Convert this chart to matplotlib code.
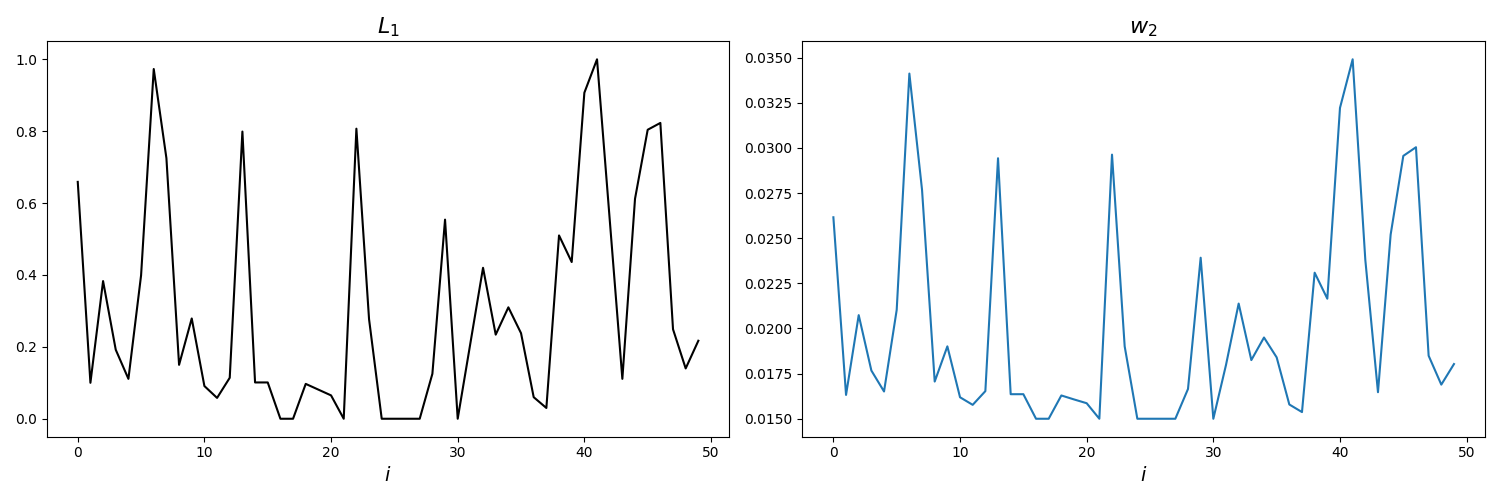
import matplotlib
matplotlib.use("Agg")
import matplotlib.pyplot as plt
import numpy as np

L1 = [0.659, 0.100, 0.383, 0.192, 0.111, 0.399, 0.973, 0.725, 0.150, 0.279,
      0.091, 0.058, 0.114, 0.799, 0.101, 0.101, 0.0, 0.0, 0.097, 0.081,
      0.065, 0.0, 0.807, 0.277, 0.0, 0.0, 0.0, 0.0, 0.125, 0.554,
      0.0, 0.21, 0.420, 0.234, 0.310, 0.238, 0.060, 0.030, 0.510, 0.436,
      0.907, 1.0, 0.555, 0.111, 0.612, 0.804, 0.823, 0.249, 0.140, 0.217]

w2 = [0.02616, 0.01632, 0.02074, 0.01767, 0.01651, 0.02103, 0.03412, 0.02768, 0.01706, 0.01901,
      0.01619, 0.01577, 0.01653, 0.02943, 0.01636, 0.01636, 0.0150, 0.0150, 0.01629, 0.01607,
      0.01586, 0.0150, 0.02963, 0.01901, 0.0150, 0.0150, 0.0150, 0.0150, 0.01665, 0.02392,
      0.0150, 0.01798, 0.02138, 0.01825, 0.01950, 0.01840, 0.01579, 0.01537, 0.02309, 0.02165,
      0.03222, 0.03491, 0.02380, 0.01647, 0.02520, 0.02956, 0.03004, 0.01849, 0.01689, 0.01803]

idx = np.arange(len(L1))

fig, axes = plt.subplots(1, 2, figsize=(15, 5), dpi=100)
axes[0].plot(idx, L1, color='black')
axes[0].set_title('$L_1$', fontsize=16)
axes[0].set_xlabel('$i$', fontsize=14)
axes[1].plot(idx, w2, color='tab:blue')
axes[1].set_title('$w_2$', fontsize=16)
axes[1].set_xlabel('$i$', fontsize=14)
fig.tight_layout()
fig.savefig('out.png')
